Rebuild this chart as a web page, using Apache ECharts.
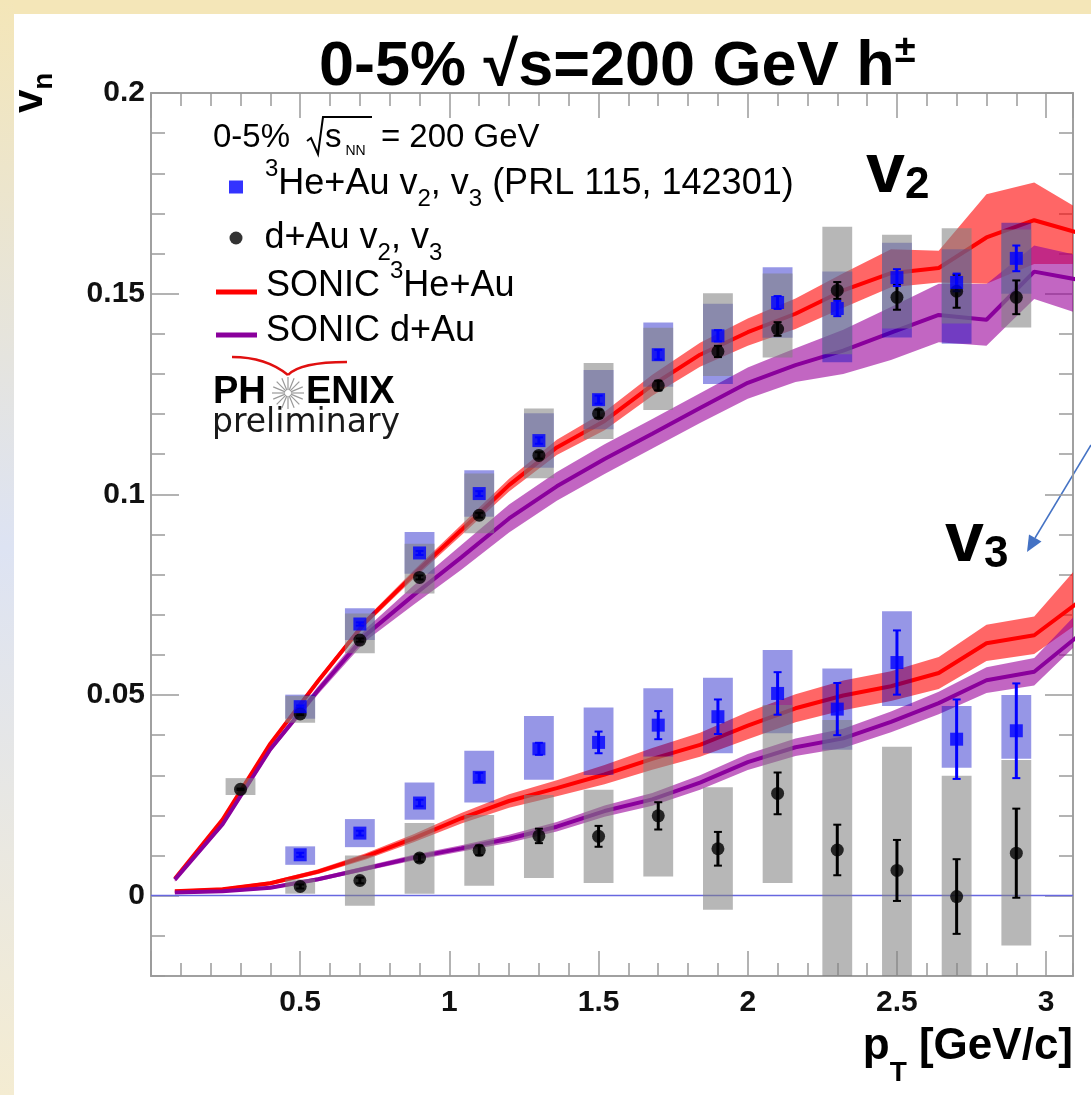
<!DOCTYPE html>
<html>
<head>
<meta charset="utf-8">
<script src="https://cdn.jsdelivr.net/npm/echarts@6/dist/echarts.min.js"></script>
<style>
html,body{margin:0;padding:0;background:#fff;}
#wrap{position:relative;width:1091px;height:1095px;overflow:hidden;background:#fff;}
#topbar{position:absolute;left:0;top:0;width:1091px;height:14px;background:#f4e6b8;}
#leftbar{position:absolute;left:0;top:0;width:14px;height:1095px;background:linear-gradient(#f4e6b8,#dde3f3 50%,#f4ecd2);}
#chart{position:absolute;left:0;top:0;width:1091px;height:1095px;}
</style>
</head>
<body>
<div id="wrap"><div id="topbar"></div><div id="leftbar"></div><div id="chart"></div></div>
<script>
// ---------------- data ----------------
const ptV2dAu = [0.3,0.5,0.7,0.9,1.1,1.3,1.5,1.7,1.9,2.1,2.3,2.5,2.7,2.9];
const v2dAu = [0.0265,0.0453,0.0637,0.0793,0.0948,0.1097,0.1201,0.1271,0.1356,0.1412,0.1508,0.1491,0.1506,0.1491];
const v2dAuStat = [0.0002,0.0003,0.0004,0.0005,0.0006,0.0008,0.0010,0.0012,0.0014,0.0017,0.0021,0.0031,0.0041,0.0042];
const v2dAuSysLo = [0.0251,0.0431,0.0604,0.0753,0.0903,0.1040,0.1138,0.1210,0.1295,0.1341,0.1349,0.1413,0.1426,0.1416];
const v2dAuSysHi = [0.0293,0.0498,0.0703,0.0877,0.1052,0.1214,0.1327,0.1415,0.1501,0.1550,0.1667,0.1647,0.1663,0.1660];

const ptHe = [0.5,0.7,0.9,1.1,1.3,1.5,1.7,1.9,2.1,2.3,2.5,2.7,2.9];
const v2He = [0.0471,0.0677,0.0854,0.1002,0.1134,0.1236,0.1348,0.1395,0.1478,0.1463,0.1540,0.1528,0.1588];
const v2HeStat = [0.0003,0.0004,0.0005,0.0006,0.0008,0.0010,0.0012,0.0014,0.0016,0.0019,0.0021,0.0022,0.0032];
const v2HeSysLo = [0.0441,0.0637,0.0802,0.0944,0.1066,0.1162,0.1268,0.1275,0.1390,0.1329,0.1391,0.1375,0.1500];
const v2HeSysHi = [0.0501,0.0716,0.0906,0.1060,0.1202,0.1310,0.1428,0.1475,0.1566,0.1555,0.1627,0.1611,0.1677];

const ptV3 = [0.5,0.7,0.9,1.1,1.3,1.5,1.7,1.9,2.1,2.3,2.5,2.7,2.9];
const v3He = [0.0102,0.0156,0.0231,0.0295,0.0366,0.0382,0.0425,0.0446,0.0504,0.0465,0.0581,0.0390,0.0411];
const v3HeStat = [0.0005,0.0006,0.0008,0.0011,0.0015,0.0027,0.0035,0.0043,0.0053,0.0065,0.0080,0.0099,0.0118];
const v3HeSysLo = [0.0077,0.0121,0.0189,0.0232,0.0289,0.0301,0.0346,0.0355,0.0405,0.0364,0.0473,0.0319,0.0341];
const v3HeSysHi = [0.0123,0.0191,0.0282,0.0361,0.0448,0.0469,0.0517,0.0543,0.0612,0.0566,0.0709,0.0473,0.0500];
const v3dAu = [0.0023,0.0038,0.0094,0.0113,0.0149,0.0148,0.0199,0.0117,0.0255,0.0114,0.0063,-0.0002,0.0106];
const v3dAuStat = [0.0005,0.0007,0.0009,0.0012,0.0018,0.0026,0.0034,0.0042,0.0052,0.0063,0.0076,0.0093,0.0111];
const v3dAuSysLo = [0.0005,-0.0025,0.0005,0.0025,0.0044,0.0032,0.0048,-0.0035,0.0032,-0.0210,-0.0245,-0.0303,-0.0124];
const v3dAuSysHi = [0.0041,0.0100,0.0181,0.0201,0.0251,0.0264,0.0347,0.0270,0.0475,0.0438,0.0371,0.0299,0.0338];

const ptSonic = [0.08,0.24,0.40,0.56,0.72,0.88,1.04,1.20,1.36,1.52,1.68,1.84,2.00,2.16,2.32,2.48,2.64,2.80,2.96,3.12];
const sonicHeV2 = [0.0042,0.0190,0.0379,0.0535,0.0683,0.0800,0.0911,0.1023,0.1117,0.1183,0.1272,0.1348,0.1404,0.1450,0.1508,0.1551,0.1564,0.1640,0.1683,0.1649];
const sonicHeV2Lo = [0.0037,0.0185,0.0373,0.0528,0.0675,0.0790,0.0898,0.1007,0.1098,0.1160,0.1246,0.1318,0.1370,0.1412,0.1465,0.1516,0.1528,0.1525,0.1574,0.1574];
const sonicHeV2Hi = [0.0047,0.0195,0.0385,0.0542,0.0691,0.0810,0.0924,0.1039,0.1136,0.1206,0.1298,0.1378,0.1438,0.1488,0.1551,0.1611,0.1607,0.1748,0.1777,0.1720];
const sonicDAuV2 = [0.0040,0.0178,0.0365,0.0512,0.0650,0.0749,0.0843,0.0940,0.1020,0.1088,0.1151,0.1215,0.1278,0.1322,0.1358,0.1403,0.1447,0.1435,0.1555,0.1533];
const sonicDAuV2Lo = [0.0035,0.0172,0.0358,0.0502,0.0635,0.0725,0.0812,0.0905,0.0984,0.1051,0.1114,0.1178,0.1238,0.1280,0.1300,0.1335,0.1379,0.1370,0.1487,0.1455];
const sonicDAuV2Hi = [0.0045,0.0184,0.0372,0.0522,0.0665,0.0773,0.0874,0.0975,0.1056,0.1125,0.1188,0.1252,0.1316,0.1364,0.1410,0.1467,0.1525,0.1524,0.1620,0.1598];
const sonicHeV3 = [0.0011,0.0016,0.0031,0.0060,0.0098,0.0143,0.0193,0.0236,0.0268,0.0302,0.0341,0.0376,0.0424,0.0467,0.0499,0.0522,0.0555,0.0629,0.0649,0.0738];
const sonicHeV3Lo = [0.0007,0.0012,0.0026,0.0054,0.0090,0.0133,0.0180,0.0219,0.0248,0.0278,0.0314,0.0346,0.0390,0.0432,0.0462,0.0485,0.0515,0.0585,0.0602,0.0670];
const sonicHeV3Hi = [0.0015,0.0020,0.0036,0.0066,0.0106,0.0153,0.0206,0.0253,0.0288,0.0326,0.0368,0.0406,0.0458,0.0502,0.0536,0.0559,0.0595,0.0675,0.0696,0.0806];
const sonicDAuV3 = [0.0008,0.0011,0.0020,0.0041,0.0068,0.0095,0.0118,0.0142,0.0172,0.0211,0.0240,0.0282,0.0333,0.0370,0.0392,0.0433,0.0480,0.0537,0.0558,0.0655];
const sonicDAuV3Lo = [0.0005,0.0008,0.0016,0.0036,0.0062,0.0088,0.0110,0.0132,0.0160,0.0197,0.0224,0.0264,0.0313,0.0348,0.0368,0.0407,0.0452,0.0505,0.0524,0.0617];
const sonicDAuV3Hi = [0.0011,0.0014,0.0024,0.0046,0.0074,0.0102,0.0126,0.0152,0.0184,0.0225,0.0256,0.0300,0.0353,0.0392,0.0416,0.0459,0.0508,0.0569,0.0592,0.0693];

const xTickLabels = ['0.5','1','1.5','2','2.5','3'];
const yTickLabels = ['0','0.05','0.1','0.15','0.2'];

const NAME_HE = '³He+Au v₂, v₃ (PRL 115, 142301)';
const NAME_DAU = 'd+Au v₂, v₃';
const NAME_SHE = 'SONIC ³He+Au';
const NAME_SDAU = 'SONIC d+Au';

// ---------------- styles ----------------
const FONT = '"Liberation Sans", Arial, Helvetica, sans-serif';
const BOX_HW = 0.05;      // half width of systematic boxes (in pT)
const CAP_HW = 4;         // error bar cap half width (px)
const RED = '#ff0000', RED_BAND = 'rgba(255,0,0,0.6)';
const PURPLE = '#8a009c', PURPLE_BAND = 'rgba(153,0,153,0.6)';
const GRAY_BOX = 'rgba(128,128,128,0.57)', BLUE_BOX = 'rgba(0,0,195,0.41)';
const BLUE = '#0000ff', BLACK = '#000000';
const FRAME = '#9a9a9a';

const chart = echarts.init(document.getElementById('chart'), null, {renderer: 'canvas', width: 1091, height: 1095});

function rectOf(cs) { return {x: cs.x, y: cs.y, width: cs.width, height: cs.height}; }

function bandSeries(xs, lo, hi, color, z) {
  return {
    type: 'custom', name: 'band' + z, z: z, silent: true, animation: false,
    data: xs.map((x, i) => [x, lo[i], hi[i]]),
    encode: {x: 0, y: [1, 2]},
    renderItem: function (params, api) {
      if (params.dataIndex !== 0) return null;
      const up = xs.map((x, i) => api.coord([x, hi[i]]));
      const dn = xs.map((x, i) => api.coord([x, lo[i]])).reverse();
      const pts = echarts.graphic.clipPointsByRect(up.concat(dn), rectOf(params.coordSys));
      return {type: 'polygon', shape: {points: pts}, style: {fill: color}};
    }
  };
}
function lineSeries(name, xs, ys, color, z, extra) {
  return Object.assign({
    type: 'line', name: name, z: z, silent: true, animation: false,
    data: xs.map((x, i) => [x, ys[i]]), showSymbol: false, symbol: 'none',
    lineStyle: {color: color, width: 4}, itemStyle: {color: color}, clip: true
  }, extra || {});
}
function boxSeries(name, xs, lo, hi, color, z) {
  return {
    type: 'custom', name: name, z: z, silent: true, animation: false,
    data: xs.map((x, i) => [x, lo[i], hi[i]]),
    encode: {x: 0, y: [1, 2]},
    renderItem: function (params, api) {
      const x = api.value(0), l = api.value(1), h = api.value(2);
      const p1 = api.coord([x - BOX_HW, h]);
      const p2 = api.coord([x + BOX_HW, l]);
      const r = echarts.graphic.clipRectByRect(
        {x: p1[0], y: p1[1], width: p2[0] - p1[0], height: p2[1] - p1[1]}, rectOf(params.coordSys));
      return r ? {type: 'rect', shape: r, style: {fill: color}} : null;
    }
  };
}
function errSeries(name, xs, ys, es, color, z) {
  return {
    type: 'custom', name: name, z: z, silent: true, animation: false,
    data: xs.map((x, i) => [x, ys[i], es[i]]),
    encode: {x: 0, y: 1},
    renderItem: function (params, api) {
      const x = api.value(0), v = api.value(1), e = api.value(2);
      const t = api.coord([x, v + e]), b = api.coord([x, v - e]);
      return {type: 'group', children: [
        {type: 'line', shape: {x1: t[0], y1: t[1], x2: b[0], y2: b[1]}, style: {stroke: color, lineWidth: 3}},
        {type: 'line', shape: {x1: t[0] - CAP_HW, y1: t[1], x2: t[0] + CAP_HW, y2: t[1]}, style: {stroke: color, lineWidth: 2}},
        {type: 'line', shape: {x1: b[0] - CAP_HW, y1: b[1], x2: b[0] + CAP_HW, y2: b[1]}, style: {stroke: color, lineWidth: 2}}
      ]};
    }
  };
}

// ---------------- axes ----------------
const XMIN = 0, XMAX = 3.09, YMIN = -0.02, YMAX = 0.2;
function xAx(pos, interval, len, withLabels) {
  const a = {
    type: 'value', position: pos, min: XMIN, max: XMAX, interval: interval,
    axisLine: {show: true, onZero: false, lineStyle: {color: FRAME, width: 1.5}},
    axisTick: {show: true, inside: true, length: len, lineStyle: {color: FRAME, width: 1.5}},
    axisLabel: {show: false}, splitLine: {show: false}
  };
  if (withLabels) {
    a.axisLabel = {
      show: true, margin: 12, showMaxLabel: false, color: '#111',
      fontFamily: FONT, fontSize: 30, fontWeight: 'bold',
      formatter: v => { const s = String(+v.toFixed(2)); return xTickLabels.indexOf(s) >= 0 ? s : ''; }
    };
    a.name = '{p|p}{T|T}{u| [GeV/c]}';
    a.nameLocation = 'end';
    a.nameGap = 0;
    a.nameTextStyle = {
      align: 'right', verticalAlign: 'top', padding: [31, 0, 0, 0],
      rich: {
        p: {fontFamily: FONT, fontSize: 44, fontWeight: 'bold', lineHeight: 80, color: '#000'},
        u: {fontFamily: FONT, fontSize: 44, fontWeight: 'bold', lineHeight: 80, color: '#000'},
        T: {fontFamily: FONT, fontSize: 28, fontWeight: 'bold', lineHeight: 28, verticalAlign: 'bottom', color: '#000'}
      }
    };
  }
  return a;
}
function yAx(pos, split, len, withLabels) {
  const a = {
    type: 'value', position: pos, min: YMIN, max: YMAX, splitNumber: split,
    axisLine: {show: true, onZero: false, lineStyle: {color: FRAME, width: 1.5}},
    axisTick: {show: true, inside: true, length: len, lineStyle: {color: FRAME, width: 1.5}},
    axisLabel: {show: false}, splitLine: {show: false}
  };
  if (withLabels) {
    a.axisLabel = {
      show: true, margin: 6, showMinLabel: false, color: '#111',
      fontFamily: FONT, fontSize: 30, fontWeight: 'bold',
      formatter: v => { const s = String(+v.toFixed(3)); return yTickLabels.indexOf(s) >= 0 ? s : ''; }
    };
  }
  return a;
}

// ---------------- legends ----------------
const RICH = {
  t: {fontFamily: FONT, fontSize: 36, lineHeight: 54, color: '#000'},
  sup: {fontFamily: FONT, fontSize: 24, lineHeight: 28, verticalAlign: 'top', color: '#000'},
  sub: {fontFamily: FONT, fontSize: 24, lineHeight: 22, verticalAlign: 'bottom', color: '#000'}
};
const LEGEND_TEXT = {};
LEGEND_TEXT[NAME_HE] = '{sup|3}{t|He+Au v}{sub|2}{t|, v}{sub|3}{t| (PRL 115, 142301)}';
LEGEND_TEXT[NAME_DAU] = '{t|d+Au v}{sub|2}{t|, v}{sub|3}';
LEGEND_TEXT[NAME_SHE] = '{t|SONIC }{sup|3}{t|He+Au}';
LEGEND_TEXT[NAME_SDAU] = '{t|SONIC d+Au}';
function mkLegend(name, icon, left, top, w, h, padB, padL) {
  return {
    data: [{name: name, icon: icon}], left: left, top: top, itemWidth: w, itemHeight: h,
    padding: 0, selectedMode: false, orient: 'horizontal',
    formatter: n => LEGEND_TEXT[n],
    textStyle: {fontFamily: FONT, fontSize: 36, color: '#000', rich: RICH, padding: [0, 0, padB, padL]}
  };
}

// ---------------- graphics (annotations) ----------------
function starSpokes(cx, cy, r, n) {
  const out = [];
  for (let k = 0; k < n; k++) {
    const a = Math.PI * 2 * k / n;
    out.push({type: 'line', shape: {x1: cx + 3 * Math.cos(a), y1: cy + 3 * Math.sin(a), x2: cx + r * Math.cos(a), y2: cy + r * Math.sin(a)},
      style: {stroke: '#9a9a9a', lineWidth: 1.2}});
  }
  return out;
}
const graphics = [
  // y axis title v_n
  {type: 'text', x: 58, y: 113, rotation: Math.PI / 2, silent: true,
   style: {text: '{v|v}{n|n}', align: 'left', verticalAlign: 'bottom',
     rich: {v: {fontFamily: FONT, fontSize: 42, fontWeight: 'bold', lineHeight: 56, fill: '#000'},
            n: {fontFamily: FONT, fontSize: 28, fontWeight: 'bold', lineHeight: 28, verticalAlign: 'bottom', fill: '#000'}}}},
  // legend header
  {type: 'text', x: 213, y: 138, silent: true,
   style: {text: '0-5%', fontFamily: FONT, fontSize: 33, fill: '#000', verticalAlign: 'middle'}},
  {type: 'polyline', silent: true, shape: {points: [[307, 141], [311, 138], [318, 154], [323, 117], [372, 117]]},
   style: {stroke: '#000', lineWidth: 2, fill: null}},
  {type: 'text', x: 325, y: 138, silent: true,
   style: {text: '{s|s}{n|NN}{t| = 200 GeV}', verticalAlign: 'middle',
     rich: {s: {fontFamily: FONT, fontSize: 33, lineHeight: 40, fill: '#000'},
            n: {fontFamily: FONT, fontSize: 14, lineHeight: 14, verticalAlign: 'bottom', padding: [0, 6, 0, 4], fill: '#000'},
            t: {fontFamily: FONT, fontSize: 33, lineHeight: 40, fill: '#000'}}}},
  // PHENIX logo
  {type: 'bezierCurve', silent: true, shape: {x1: 232, y1: 357, cpx1: 266, cpy1: 357, x2: 288, y2: 375},
   style: {stroke: '#e01010', lineWidth: 2.5, fill: null}},
  {type: 'bezierCurve', silent: true, shape: {x1: 288, y1: 375, cpx1: 300, cpy1: 362, x2: 347, y2: 362},
   style: {stroke: '#e01010', lineWidth: 2.5, fill: null}},
  {type: 'text', x: 213, y: 393, silent: true,
   style: {text: 'PH', fontFamily: FONT, fontSize: 38, fontWeight: 'bold', fill: '#000', verticalAlign: 'middle'}},
  {type: 'group', silent: true, children: starSpokes(288, 393, 16, 16)},
  {type: 'text', x: 306, y: 393, silent: true,
   style: {text: 'ENIX', fontFamily: FONT, fontSize: 38, fontWeight: 'bold', fill: '#000', verticalAlign: 'middle'}},
  {type: 'text', x: 212, y: 423, silent: true,
   style: {text: 'preliminary', fontFamily: '"DejaVu Sans", sans-serif', fontSize: 33, fill: '#1a1a1a', verticalAlign: 'middle'}},
  // v2 / v3 labels
  {type: 'text', x: 866, y: 208, silent: true,
   style: {text: '{v|v}{d|2}', verticalAlign: 'bottom',
     rich: {v: {fontFamily: FONT, fontSize: 70, fontWeight: 'bold', lineHeight: 70, verticalAlign: 'bottom', fill: '#000'},
            d: {fontFamily: FONT, fontSize: 44, fontWeight: 'bold', lineHeight: 50, verticalAlign: 'bottom', fill: '#000'}}}},
  {type: 'text', x: 945, y: 577, silent: true,
   style: {text: '{v|v}{d|3}', verticalAlign: 'bottom',
     rich: {v: {fontFamily: FONT, fontSize: 70, fontWeight: 'bold', lineHeight: 70, verticalAlign: 'bottom', fill: '#000'},
            d: {fontFamily: FONT, fontSize: 44, fontWeight: 'bold', lineHeight: 50, verticalAlign: 'bottom', fill: '#000'}}}},
  // arrow
  {type: 'line', silent: true, shape: {x1: 1091, y1: 445, x2: 1035, y2: 538}, style: {stroke: '#4472c4', lineWidth: 1.5}},
  {type: 'polygon', silent: true, shape: {points: [[1027, 552], [1041.5, 541.5], [1029, 534.5]]}, style: {fill: '#4472c4'}}
];

// ---------------- option ----------------
const option = {
  animation: false,
  backgroundColor: 'transparent',
  title: {
    text: '{a|0-5% √s=200 GeV h}{b|±}', left: 314, top: 28,
    textStyle: {
      fontFamily: FONT, fontSize: 63, fontWeight: 'bold', color: '#000',
      rich: {
        a: {fontFamily: FONT, fontSize: 63, fontWeight: 'bold', lineHeight: 70, color: '#000'},
        b: {fontFamily: FONT, fontSize: 38, fontWeight: 'bold', lineHeight: 42, verticalAlign: 'top', color: '#000'}
      }
    }
  },
  grid: {left: 151, right: 18, top: 93, bottom: 119, containLabel: false},
  xAxis: [xAx('bottom', 0.5, 25, true), xAx('bottom', 0.1, 13, false), xAx('top', 0.5, 25, false), xAx('top', 0.1, 13, false)],
  yAxis: [yAx('left', 4, 28, true), yAx('left', 22, 14, false), yAx('right', 4, 28, false), yAx('right', 22, 14, false)],
  legend: [
    mkLegend(NAME_HE, 'rect', 229, 157, 14, 13, 6, 17),
    mkLegend(NAME_DAU, 'circle', 229.5, 220, 13, 13, 0, 17),
    mkLegend(NAME_SHE, 'rect', 216, 259, 41, 5, 12, 4),
    mkLegend(NAME_SDAU, 'rect', 216, 313, 41, 5, 8, 4)
  ],
  graphic: graphics,
  series: [
    bandSeries(ptSonic, sonicHeV2Lo, sonicHeV2Hi, RED_BAND, 1),
    bandSeries(ptSonic, sonicHeV3Lo, sonicHeV3Hi, RED_BAND, 1),
    lineSeries(NAME_SHE, ptSonic, sonicHeV2, RED, 2, {
      markLine: {silent: true, symbol: 'none', label: {show: false},
                 lineStyle: {color: '#6767e0', width: 1.3, type: 'solid'}, data: [{yAxis: 0}]}
    }),
    lineSeries(NAME_SHE + ' v3', ptSonic, sonicHeV3, RED, 2),
    bandSeries(ptSonic, sonicDAuV2Lo, sonicDAuV2Hi, PURPLE_BAND, 3),
    bandSeries(ptSonic, sonicDAuV3Lo, sonicDAuV3Hi, PURPLE_BAND, 3),
    lineSeries(NAME_SDAU, ptSonic, sonicDAuV2, PURPLE, 4),
    lineSeries(NAME_SDAU + ' v3', ptSonic, sonicDAuV3, PURPLE, 4),
    boxSeries('He v2 syst', ptHe, v2HeSysLo, v2HeSysHi, BLUE_BOX, 5),
    boxSeries('He v3 syst', ptV3, v3HeSysLo, v3HeSysHi, BLUE_BOX, 5),
    boxSeries('d+Au v2 syst', ptV2dAu, v2dAuSysLo, v2dAuSysHi, GRAY_BOX, 6),
    boxSeries('d+Au v3 syst', ptV3, v3dAuSysLo, v3dAuSysHi, GRAY_BOX, 6),
    errSeries('d+Au v2 stat', ptV2dAu, v2dAu, v2dAuStat, BLACK, 7),
    errSeries('d+Au v3 stat', ptV3, v3dAu, v3dAuStat, BLACK, 7),
    errSeries('He v2 stat', ptHe, v2He, v2HeStat, BLUE, 7),
    errSeries('He v3 stat', ptV3, v3He, v3HeStat, BLUE, 7),
    {type: 'scatter', name: NAME_DAU, z: 8, silent: true, symbol: 'circle', symbolSize: 13,
     itemStyle: {color: BLACK},
     data: ptV2dAu.map((x, i) => [x, v2dAu[i]]).concat(ptV3.map((x, i) => [x, v3dAu[i]]))},
    {type: 'scatter', name: NAME_HE, z: 8, silent: true, symbol: 'rect', symbolSize: 13,
     itemStyle: {color: BLUE},
     data: ptHe.map((x, i) => [x, v2He[i]]).concat(ptV3.map((x, i) => [x, v3He[i]]))}
  ]
};
chart.setOption(option);
</script>
</body>
</html>
